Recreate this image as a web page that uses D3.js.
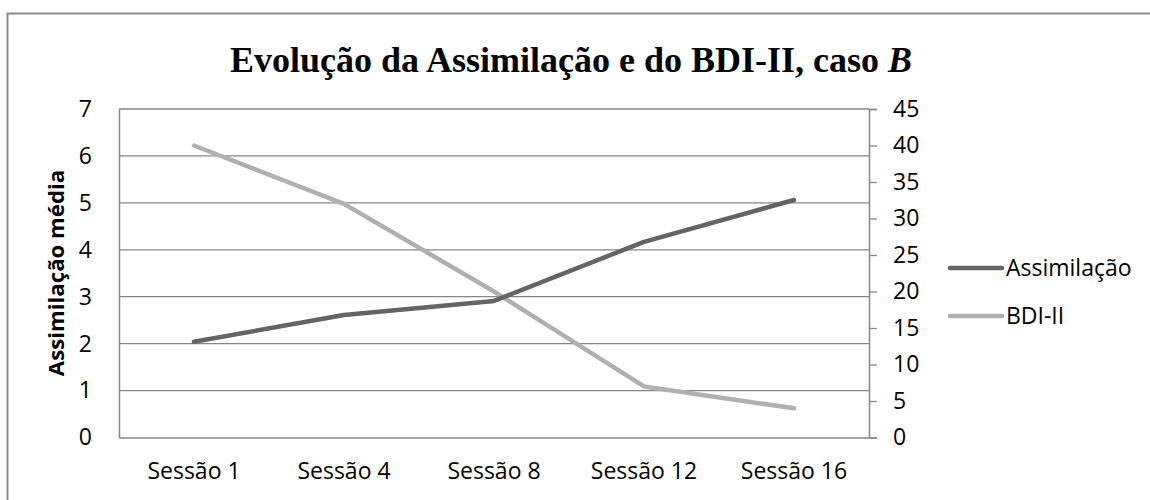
<!DOCTYPE html>
<html>
<head>
<meta charset="utf-8">
<script src="https://cdn.jsdelivr.net/npm/d3@7"></script>
<style>
  body { margin: 0; background: #fff; }
  svg { display: block; }
</style>
</head>
<body>
<svg id="chart" width="1150" height="500"></svg>
<script>
const categories = ["Sessão 1", "Sessão 4", "Sessão 8", "Sessão 12", "Sessão 16"];
const assimilacao = [2.04, 2.61, 2.91, 4.17, 5.06];
const bdi = [40, 32, 20, 7, 4];
const leftTicks = [0, 1, 2, 3, 4, 5, 6, 7];
const rightTicks = [0, 5, 10, 15, 20, 25, 30, 35, 40, 45];
const seriesNames = ["Assimilação", "BDI-II"];

const svg = d3.select("#chart");
const font = "'Open Sans', 'Noto Sans', sans-serif";
const plot = { left: 119, right: 869, top: 109, bottom: 437.5 };

// frame
svg.append("path")
  .attr("d", "M7.5,500 V13.5 H1150")
  .attr("fill", "none").attr("stroke", "#8c8c8c").attr("stroke-width", 2);

const x = d3.scaleBand().domain(categories).range([plot.left, plot.right]);
const yL = d3.scaleLinear().domain([0, 7]).range([plot.bottom, plot.top]);
const yR = d3.scaleLinear().domain([0, 45]).range([plot.bottom, plot.top]);

// gridlines
svg.append("g").selectAll("line").data(leftTicks.filter(d => d > 0)).join("line")
  .attr("x1", plot.left).attr("x2", plot.right)
  .attr("y1", d => yL(d)).attr("y2", d => yL(d))
  .attr("stroke", "#878787").attr("stroke-width", 1.3);

// left axis
const gL = svg.append("g").attr("transform", `translate(${plot.left},0)`)
  .call(d3.axisLeft(yL).tickValues(leftTicks).tickSize(0).tickPadding(27).tickFormat(d3.format("d")));
gL.select(".domain").attr("stroke", "#878787").attr("stroke-width", 1.5);
gL.selectAll("text").attr("font-family", font).attr("font-size", 23).attr("fill", "#000");

// bottom axis
const gB = svg.append("g").attr("transform", `translate(0,${plot.bottom})`)
  .call(d3.axisBottom(x).tickSize(0).tickPadding(25));
gB.select(".domain").attr("stroke", "#878787").attr("stroke-width", 1.5);
gB.selectAll("text").attr("font-family", font).attr("font-size", 23).attr("fill", "#000");

// right axis
const gR = svg.append("g").attr("transform", `translate(${plot.right},0)`)
  .call(d3.axisRight(yR).tickValues(rightTicks).tickSize(8).tickPadding(16));
gR.select(".domain").attr("stroke", "#878787").attr("stroke-width", 1.5);
gR.selectAll(".tick line").attr("stroke", "#878787").attr("stroke-width", 1.3);
gR.selectAll("text").attr("font-family", font).attr("font-size", 23).attr("fill", "#000");

// lines
const lineL = d3.line().x((d, i) => x(categories[i]) + x.bandwidth() / 2).y(d => yL(d));
const lineR = d3.line().x((d, i) => x(categories[i]) + x.bandwidth() / 2).y(d => yR(d));
const colors = ["#646464", "#b0b0b0"];

svg.append("path").datum(bdi).attr("d", lineR)
  .attr("fill", "none").attr("stroke", colors[1]).attr("stroke-width", 4.5)
  .attr("stroke-linecap", "round").attr("stroke-linejoin", "round");
svg.append("path").datum(assimilacao).attr("d", lineL)
  .attr("fill", "none").attr("stroke", colors[0]).attr("stroke-width", 4.5)
  .attr("stroke-linecap", "round").attr("stroke-linejoin", "round");

// title
svg.append("text").attr("x", 571).attr("y", 72).attr("text-anchor", "middle")
  .attr("font-family", "'Liberation Serif', 'Times New Roman', serif")
  .attr("font-weight", "bold").attr("font-size", 36).attr("fill", "#000")
  .call(t => {
    t.append("tspan").text("Evolução da Assimilação e do BDI-II, caso ");
    t.append("tspan").attr("font-style", "italic").text("B");
  });

// y axis title
svg.append("text")
  .attr("transform", "translate(64,273) rotate(-90)")
  .attr("text-anchor", "middle")
  .attr("font-family", font).attr("font-weight", "bold").attr("font-size", 22.2).attr("fill", "#000")
  .text("Assimilação média");

// legend
const leg = svg.append("g");
seriesNames.forEach((name, i) => {
  const ly = 268 + i * 48;
  leg.append("line").attr("x1", 950).attr("x2", 1002).attr("y1", ly).attr("y2", ly)
    .attr("stroke", colors[i]).attr("stroke-width", 4.5).attr("stroke-linecap", "round");
  leg.append("text").attr("x", 1006).attr("y", ly + 8)
    .attr("font-family", font).attr("font-size", 23).attr("fill", "#000").text(name);
});
</script>
</body>
</html>
